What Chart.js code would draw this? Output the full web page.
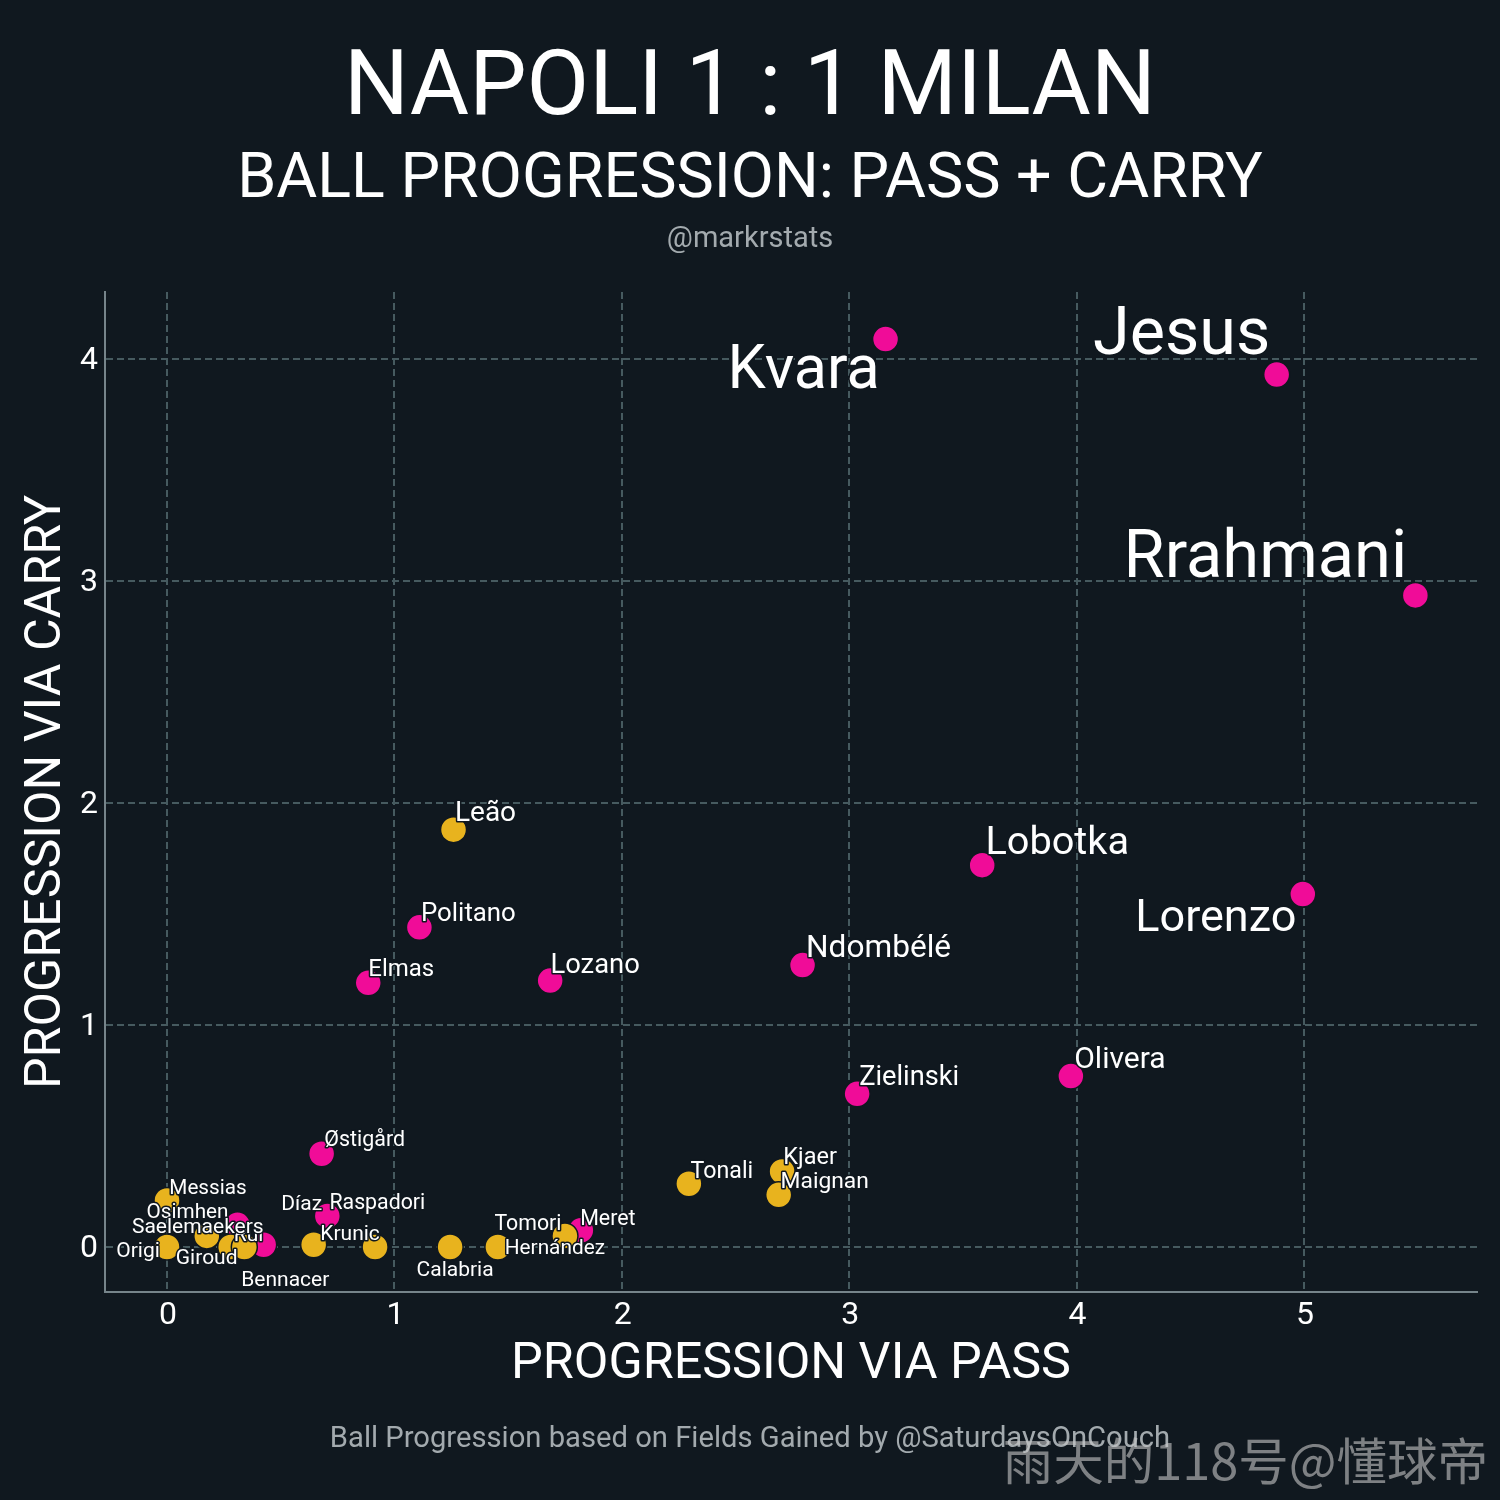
<!DOCTYPE html>
<html>
<head>
<meta charset="utf-8">
<script src="https://cdn.jsdelivr.net/npm/chart.js@4"></script>
<style>
  html, body { margin: 0; background: #10181f; }
  canvas { display: block; }
</style>
</head>
<body>
<canvas id="chart" width="1500" height="1500"></canvas>
<script>
'use strict';

const milanNames = ['Leão', 'Tonali', 'Kjaer', 'Maignan', 'Messias', 'Saelemaekers', 'Origi', 'Giroud', 'Bennacer', 'Díaz', 'Krunic', 'Calabria', 'Hernández', 'Tomori'];
const milanPass = [1.26, 2.295, 2.705, 2.69, 0, 0.175, 0, 0.28, 0.34, 0.645, 0.915, 1.245, 1.455, 1.75];
const milanCarry = [1.88, 0.285, 0.34, 0.235, 0.21, 0.05, 0, 0, 0, 0.01, 0, 0, 0, 0.05];

const napoliNames = ['Kvara', 'Jesus', 'Rrahmani', 'Lobotka', 'Lorenzo', 'Politano', 'Elmas', 'Lozano', 'Ndombélé', 'Zielinski', 'Olivera', 'Østigård', 'Osimhen', 'Rui', 'Raspadori', 'Meret'];
const napoliPass = [3.16, 4.88, 5.49, 3.585, 4.995, 1.11, 0.885, 1.685, 2.795, 3.035, 3.975, 0.68, 0.31, 0.425, 0.705, 1.82];
const napoliCarry = [4.09, 3.93, 2.935, 1.72, 1.59, 1.44, 1.19, 1.20, 1.27, 0.69, 0.77, 0.42, 0.10, 0.01, 0.14, 0.075];

const xTicks = [0, 1, 2, 3, 4, 5];
const yTicks = [0, 1, 2, 3, 4];

// label placement, px from the point centre: [dx, dy, font size]
const labelStyle = {
  'Kvara': [-82, 34, 61], 'Jesus': [-95, -37, 66.5], 'Rrahmani': [-150, -35, 66.8],
  'Lobotka': [75, -21, 39.7], 'Lorenzo': [-87, 26, 45], 'Politano': [49, -13, 25.8],
  'Elmas': [33, -13, 24], 'Lozano': [45, -14, 27.4], 'Ndombélé': [76, -16, 31.6],
  'Zielinski': [52, -16, 27.2], 'Olivera': [49, -16, 30], 'Østigård': [43, -13, 21.4],
  'Osimhen': [-50, -12, 20.7], 'Rui': [-15, -9, 21], 'Raspadori': [50, -12, 21.3], 'Meret': [27, -11, 21.4],
  'Leão': [32, -16, 28], 'Tonali': [33, -12, 23.2], 'Kjaer': [28, -13, 23.5], 'Maignan': [46, -13, 22.8],
  'Messias': [41, -12, 20.7], 'Saelemaekers': [-9, -8, 21], 'Origi': [-29, 5, 21], 'Giroud': [-24, 12, 21],
  'Bennacer': [41, 34, 21], 'Díaz': [-12, -40, 21], 'Krunic': [-25, -12, 21], 'Calabria': [5, 24, 21],
  'Hernández': [57, 2, 20.8], 'Tomori': [-37, -11, 21.3]
};

const BG = '#10181f';
const FONT = 'Roboto, sans-serif';

function toPoints(xs, ys) {
  return xs.map((x, i) => ({ x: x, y: ys[i] }));
}

// player names, with a dark halo like the original
const pointLabels = {
  id: 'pointLabels',
  afterDatasetsDraw(chart) {
    const ctx = chart.ctx;
    ctx.save();
    ctx.textAlign = 'center';
    ctx.textBaseline = 'middle';
    ctx.lineJoin = 'round';
    [1, 0].forEach(d => {
      const names = chart.data.datasets[d].names;
      chart.getDatasetMeta(d).data.forEach((pt, i) => {
        const s = labelStyle[names[i]];
        ctx.font = s[2] + 'px ' + FONT;
        ctx.lineWidth = 3;
        ctx.strokeStyle = BG;
        ctx.strokeText(names[i], pt.x + s[0], pt.y + s[1]);
        ctx.fillStyle = '#ffffff';
        ctx.fillText(names[i], pt.x + s[0], pt.y + s[1]);
      });
    });
    ctx.restore();
  }
};

const headerText = {
  id: 'headerText',
  beforeDraw(chart) {
    const ctx = chart.ctx;
    ctx.save();
    ctx.fillStyle = BG;
    ctx.fillRect(0, 0, 1500, 1500);
    ctx.textAlign = 'center';
    ctx.textBaseline = 'alphabetic';
    ctx.fillStyle = '#ffffff';
    ctx.font = '91px ' + FONT;
    ctx.fillText('NAPOLI 1 : 1 MILAN', 750, 114);
    ctx.font = '62.8px ' + FONT;
    ctx.fillText('BALL PROGRESSION: PASS + CARRY', 750, 197);
    ctx.fillStyle = '#a3aaae';
    ctx.font = '29px ' + FONT;
    ctx.fillText('@markrstats', 750, 247);
    ctx.font = '29.2px ' + FONT;
    ctx.fillText('Ball Progression based on Fields Gained by @SaturdaysOnCouch', 750, 1447);
    ctx.restore();
  },
  afterDraw(chart) {
    const ctx = chart.ctx;
    ctx.save();
    ctx.textAlign = 'right';
    ctx.textBaseline = 'middle';
    ctx.fillStyle = 'rgba(200,200,200,0.6)';
    ctx.font = '50.5px "Noto Sans CJK SC", "DejaVu Sans"';
    ctx.fillText('雨天的118号@懂球帝', 1488, 1461);
    ctx.restore();
  }
};

new Chart(document.getElementById('chart'), {
  type: 'scatter',
  data: {
    datasets: [
      { label: 'Milan', names: milanNames, data: toPoints(milanPass, milanCarry), backgroundColor: '#e8b31e' },
      { label: 'Napoli', names: napoliNames, data: toPoints(napoliPass, napoliCarry), backgroundColor: '#f00c98' }
    ]
  },
  options: {
    responsive: false,
    animation: false,
    devicePixelRatio: 1,
    layout: { padding: { top: 292, right: 23, left: 0, bottom: 0 } },
    elements: { point: { radius: 13, borderWidth: 1.5, borderColor: BG, hoverRadius: 13 } },
    plugins: { legend: { display: false }, tooltip: { enabled: false } },
    scales: {
      x: {
        type: 'linear',
        min: -0.2727,
        max: 5.761,
        afterBuildTicks: s => { s.ticks = xTicks.map(v => ({ value: v })); },
        afterFit: s => { s.height = 208; },
        grid: { color: '#465a5f', lineWidth: 2, drawTicks: false },
        border: { color: '#76848a', width: 2, dash: [7, 4] },
        ticks: { color: '#ffffff', padding: 5, labelOffset: 1, maxRotation: 0, font: { family: FONT, size: 32 } },
        title: {
          display: true,
          text: 'PROGRESSION VIA PASS',
          color: '#ffffff',
          font: { family: FONT, size: 50.3 },
          padding: { top: 0, bottom: 104 }
        }
      },
      y: {
        type: 'linear',
        min: -0.2027,
        max: 4.302,
        afterBuildTicks: s => { s.ticks = yTicks.map(v => ({ value: v })); },
        afterFit: s => { s.width = 105; },
        grid: { color: '#465a5f', lineWidth: 2, drawTicks: false },
        border: { color: '#76848a', width: 2, dash: [7, 4] },
        ticks: { color: '#ffffff', padding: 7, labelOffset: 2, font: { family: FONT, size: 32 } },
        title: {
          display: true,
          text: 'PROGRESSION VIA CARRY',
          color: '#ffffff',
          font: { family: FONT, size: 50.2 },
          padding: { top: 17, bottom: 0 }
        }
      }
    }
  },
  plugins: [headerText, pointLabels]
});
</script>
</body>
</html>
